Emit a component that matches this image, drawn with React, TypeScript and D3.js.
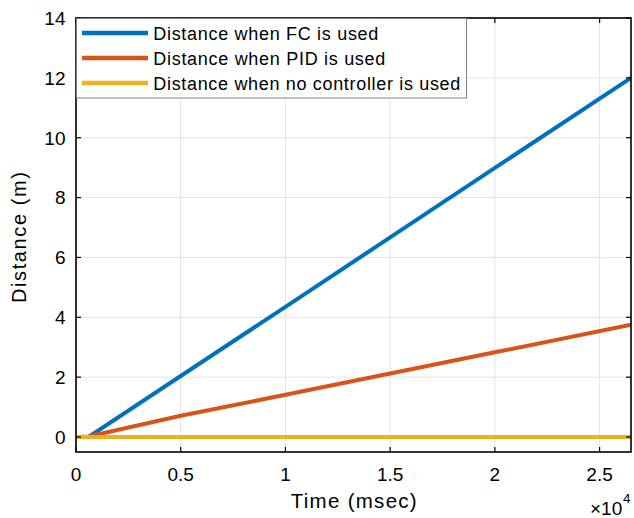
import React from "react";
import * as d3 from "d3";

const timeMs = [0, 600, 5000, 10000, 15000, 20000, 26500];
const distFC = [0, 0, 2.04, 4.35, 6.67, 8.99, 12.0];
const distPID = [0, 0.02, 0.71, 1.41, 2.12, 2.83, 3.75];
const distNone = [0, 0, 0, 0, 0, 0, 0];

const xTicks = [0, 5000, 10000, 15000, 20000, 25000];
const xTickLabels = ["0", "0.5", "1", "1.5", "2", "2.5"];
const yTicks = [0, 2, 4, 6, 8, 10, 12, 14];

const seriesNames = [
  "Distance when FC is used",
  "Distance when PID is used",
  "Distance when no controller is used",
];
const seriesColors = ["#0072BD", "#D95319", "#EDB120"];
const seriesData = [distFC, distPID, distNone];

const W = 634;
const H = 518;
const L = 76;
const R = 631;
const T = 18;
const B = 452;
const FONT = "'Liberation Sans', Arial, Helvetica, sans-serif";

export default function App() {
  const x = d3.scaleLinear().domain([0, 26500]).range([L, R]);
  const y = d3.scaleLinear().domain([-0.5, 14]).range([B, T]);
  const line = d3
    .line<number>()
    .x((_, i) => x(timeMs[i]))
    .y((d) => y(d));

  const legendWidths = [225, 232, 307];

  return (
    <svg
      width={W}
      height={H}
      style={{ position: "absolute", left: 0, top: 0, background: "#fff" }}
      fontFamily={FONT}
    >
      <rect x={0} y={0} width={W} height={H} fill="#fff" />
      {xTicks.map((t) => (
        <line key={"gx" + t} x1={x(t)} x2={x(t)} y1={T} y2={B} stroke="#e3e3e3" strokeWidth={1} />
      ))}
      {yTicks.map((t) => (
        <line key={"gy" + t} x1={L} x2={R} y1={y(t)} y2={y(t)} stroke="#e3e3e3" strokeWidth={1} />
      ))}
      <defs>
        <clipPath id="plotclip">
          <rect x={L} y={T} width={R - L} height={B - T} />
        </clipPath>
      </defs>
      <g clipPath="url(#plotclip)">
        {seriesData.map((s, i) => (
          <path key={i} d={line(s) || ""} fill="none" stroke={seriesColors[i]} strokeWidth={4} />
        ))}
      </g>
      {xTicks.map((t) => (
        <g key={"tx" + t}>
          <line x1={x(t)} x2={x(t)} y1={B} y2={B - 5} stroke="#000" strokeWidth={1.2} />
          <line x1={x(t)} x2={x(t)} y1={T} y2={T + 5} stroke="#000" strokeWidth={1.2} />
        </g>
      ))}
      {yTicks.map((t) => (
        <g key={"ty" + t}>
          <line x1={L} x2={L + 5} y1={y(t)} y2={y(t)} stroke="#000" strokeWidth={1.2} />
          <line x1={R} x2={R - 5} y1={y(t)} y2={y(t)} stroke="#000" strokeWidth={1.2} />
        </g>
      ))}
      <rect x={L} y={T} width={R - L} height={B - T} fill="none" stroke="#000" strokeWidth={1.6} />
      {xTicks.map((t, i) => (
        <text key={"lx" + t} x={x(t)} y={480.5} textAnchor="middle" fontSize={19} fill="#000">
          {xTickLabels[i]}
        </text>
      ))}
      {yTicks.map((t) => (
        <text key={"ly" + t} x={65.5} y={y(t) + 6.8} textAnchor="end" fontSize={19} fill="#000">
          {t}
        </text>
      ))}
      <text x={590} y={515} fontSize={19} fill="#000">
        ×10
      </text>
      <text x={623} y={503} fontSize={13.5} fill="#000">
        4
      </text>
      <text x={353.7} y={508} textAnchor="middle" fontSize={20.5} textLength={126} fill="#000">
        Time (msec)
      </text>
      <text
        transform={`translate(26,237.5) rotate(-90)`}
        textAnchor="middle"
        fontSize={20}
        textLength={131}
        fill="#000"
      >
        Distance (m)
      </text>
      <rect x={76.5} y={18.5} width={390} height={79.5} fill="#fff" stroke="#808080" strokeWidth={1} />
      {seriesNames.map((n, i) => (
        <g key={"lg" + i}>
          <line x1={82} x2={148} y1={33 + i * 25} y2={33 + i * 25} stroke={seriesColors[i]} strokeWidth={4.5} />
          <text x={153.3} y={39.5 + i * 25} fontSize={18} textLength={legendWidths[i]} fill="#000">
            {n}
          </text>
        </g>
      ))}
    </svg>
  );
}
